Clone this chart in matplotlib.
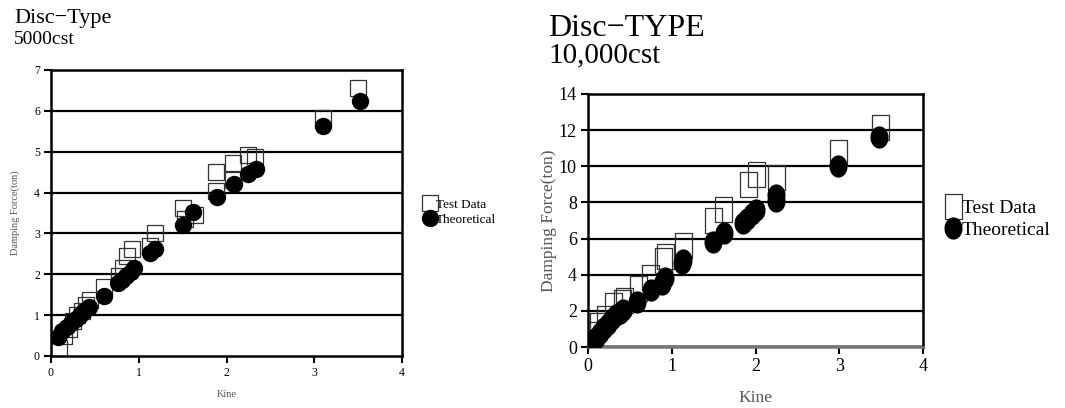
import numpy as np
import matplotlib
matplotlib.use("Agg")
import matplotlib.pyplot as plt
from matplotlib.path import Path

plt.rcParams['font.family'] = ['Liberation Serif', 'DejaVu Serif']

#########################################################################
# data

# 5000cst
kine_5000_test = [0.09, 0.15, 0.20, 0.25, 0.30, 0.35, 0.40, 0.45, 0.60, 0.77, 0.82,
                  0.87, 0.92, 1.13, 1.18, 1.50, 1.53, 1.64, 1.88, 1.88, 2.07, 2.07,
                  2.24, 2.33, 3.10, 3.50]
force_5000_test = [0.20, 0.50, 0.65, 0.85, 1.00, 1.10, 1.25, 1.38, 1.70, 1.95, 2.15,
                   2.45, 2.62, 2.70, 3.02, 3.62, 3.35, 3.45, 4.50, 4.05, 4.72, 4.30,
                   4.92, 4.88, 5.82, 6.55]
kine_5000_theo = [0.08, 0.13, 0.18, 0.23, 0.28, 0.33, 0.38, 0.43, 0.60, 0.76, 0.81,
                  0.86, 0.91, 0.95, 1.13, 1.19, 1.50, 1.62, 1.89, 2.08, 2.25, 2.34,
                  3.10, 3.52]
force_5000_theo = [0.47, 0.60, 0.70, 0.80, 0.90, 1.00, 1.10, 1.20, 1.47, 1.78, 1.86,
                   1.95, 2.05, 2.15, 2.51, 2.63, 3.20, 3.52, 3.90, 4.22, 4.45, 4.58,
                   5.63, 6.25]

# 10,000cst
kine_10000_test = [0.07, 0.12, 0.20, 0.30, 0.40, 0.43, 0.60, 0.74, 0.90, 0.92, 1.13,
                   1.49, 1.61, 1.91, 2.00, 2.24, 2.98, 3.49]
force_10000_test = [0.70, 1.20, 1.60, 2.30, 2.47, 2.60, 3.25, 3.90, 4.80, 5.04, 5.65,
                    7.03, 7.64, 9.02, 9.58, 9.40, 10.80, 12.16]
kine_10000_theo = [0.04, 0.09, 0.14, 0.19, 0.24, 0.29, 0.34, 0.38, 0.42, 0.59, 0.75,
                   0.88, 0.92, 1.12, 1.14, 1.49, 1.62, 1.85, 1.90, 1.96, 2.01, 2.24,
                   2.24, 2.99, 3.48]
force_10000_theo = [0.20, 0.50, 0.80, 1.05, 1.30, 1.55, 1.75, 1.90, 2.05, 2.50, 3.15,
                    3.50, 3.80, 4.63, 4.80, 5.83, 6.30, 6.85, 7.10, 7.35, 7.60, 8.10,
                    8.40, 10.00, 11.60]

#########################################################################
# custom tall markers for the right chart

t = np.linspace(0, 2 * np.pi, 60)
ellipse = Path(np.column_stack([0.40 * np.cos(t), 0.5 * np.sin(t)]), closed=True)
tall_rect = Path([(-0.34, -0.5), (0.34, -0.5), (0.34, 0.5), (-0.34, 0.5), (-0.34, -0.5)],
                 closed=True)

fig = plt.figure(figsize=(10.65, 4.08), dpi=100)


def style_axes(ax, ymax, ystep, tick_size, label_size, xpad, ypad):
    ax.set_xlim(0, 4)
    ax.set_ylim(0, ymax)
    ax.set_xticks(range(0, 5))
    ax.set_yticks(np.arange(0, ymax + 0.1, ystep))
    for y in np.arange(ystep, ymax, ystep):
        ax.axhline(y, color='black', lw=1.6, zorder=1)
    for s in ax.spines.values():
        s.set_linewidth(1.8)
        s.set_color('black')
    ax.tick_params(direction='out', length=5, width=1.5, labelsize=tick_size, pad=3)
    ax.set_xlabel('Kine', fontsize=label_size, color='#555555', labelpad=xpad)
    ax.set_ylabel('Damping Force(ton)', fontsize=label_size, color='#555555', labelpad=ypad)


#########################################################################
# left chart

ax1 = fig.add_axes([51 / 1065, 1 - 356 / 408, 351 / 1065, 286 / 408])
style_axes(ax1, 7, 1, 8.5, 7.5, 8, 10)
ax1.plot(kine_5000_test, force_5000_test, ls='none', marker='s', ms=12,
         mfc='none', mec='#333333', mew=0.9, label='Test Data', zorder=2)
ax1.plot(kine_5000_theo, force_5000_theo, ls='none', marker='o', ms=11.5,
         mfc='black', mec='black', label='Theoretical', zorder=3)
ax1.legend(loc='center left', bbox_to_anchor=(425 / 1065, 1 - 212 / 408),
           bbox_transform=fig.transFigure, frameon=False, fontsize=9.5,
           handlelength=0.8, handletextpad=0.0, labelspacing=0.2,
           borderpad=0, borderaxespad=0)
fig.text(14 / 1065, 1 - 19 / 408, 'Disc\u2212Type', fontsize=16, va='center')
fig.text(14 / 1065, 1 - 40 / 408, '5000cst', fontsize=14, va='center')

#########################################################################
# right chart

ax2 = fig.add_axes([588 / 1065, 1 - 347 / 408, 335 / 1065, 253 / 408])
style_axes(ax2, 14, 2, 13, 12.5, 11, 1)
ax2.axhline(0, color='#777777', lw=3.5, zorder=1)
ax2.spines['bottom'].set_color('#777777')
ax2.plot(kine_10000_test, force_10000_test, ls='none', marker=tall_rect, ms=18,
         mfc='none', mec='#333333', mew=0.9, label='Test Data', zorder=2)
ax2.plot(kine_10000_theo, force_10000_theo, ls='none', marker=ellipse, ms=15,
         mfc='black', mec='black', label='Theoretical', zorder=3)
ax2.legend(loc='center left', bbox_to_anchor=(944 / 1065, 1 - 219 / 408),
           bbox_transform=fig.transFigure, frameon=False, fontsize=14,
           handlelength=0.9, handletextpad=0.0, labelspacing=0.2,
           borderpad=0, borderaxespad=0)
fig.text(548 / 1065, 1 - 28 / 408, 'Disc\u2212TYPE', fontsize=23, va='center')
fig.text(548 / 1065, 1 - 55 / 408, '10,000cst', fontsize=21, va='center')

fig.savefig('out.png', dpi=100)
